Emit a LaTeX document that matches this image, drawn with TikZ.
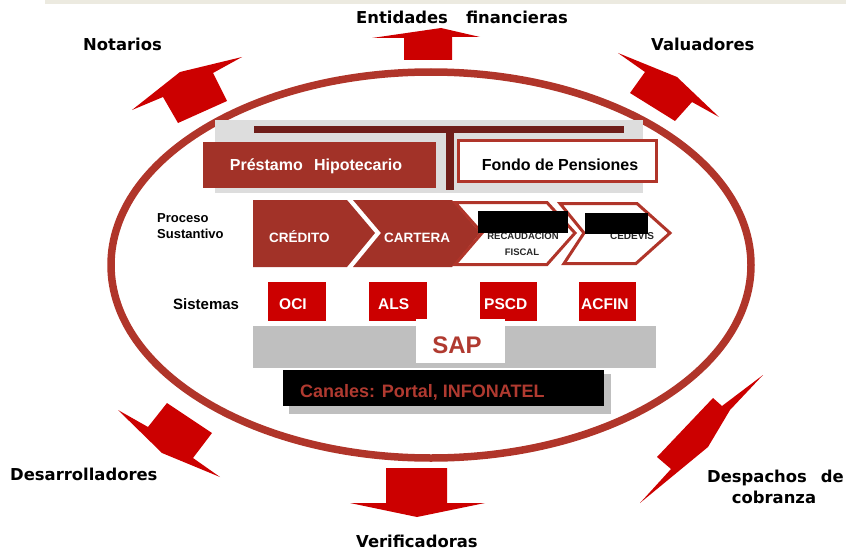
\documentclass[tikz,border=0pt]{standalone}
\usepackage{fontspec}
\setmainfont{Liberation Sans}
\newfontfamily\dvsans{DejaVu Sans}
\definecolor{arrowred}{HTML}{CC0000}
\definecolor{ringred}{HTML}{B0352A}
\definecolor{boxred}{HTML}{A23228}
\definecolor{tbar}{HTML}{6F1E1A}
\definecolor{lightbg}{HTML}{DDDDDD}
\definecolor{sapgray}{HTML}{BFBFBF}
\definecolor{topband}{HTML}{ECEAE0}
\definecolor{saptext}{HTML}{B03A30}
\begin{document}
\begin{tikzpicture}[x=1pt,y=-1pt,
  outer/.style={font=\dvsans\bfseries\fontsize{16.4}{19}\selectfont, text=black, inner sep=0pt},
  bigarrow/.style={fill=arrowred, draw=none},
  wtxt/.style={font=\bfseries\fontsize{13.5}{16}\selectfont, text=white, inner sep=0pt},
  systxt/.style={font=\bfseries\fontsize{15.5}{18}\selectfont, text=white, inner sep=0pt},
  sysbox/.style={fill=arrowred, draw=none},
  smalltxt/.style={font=\bfseries\fontsize{9.5}{11}\selectfont, text=black!85, inner sep=0pt},
  sidetxt/.style={font=\bfseries\fontsize{13}{15}\selectfont, text=black, inner sep=0pt},
  chevfill/.style={fill=boxred, draw=none},
  chevline/.style={fill=white, draw=ringred, line width=3pt, line join=miter}]
\useasboundingbox (0,0) rectangle (846,551);
% top band
\fill[topband] (45,0) rectangle (846,4);

% outer ring
\draw[ringred, line width=7.5pt] (431,265) ellipse [x radius=320, y radius=193];

% arrows
\fill[bigarrow] (404,60) -- (404,38) -- (372,38) -- (441,28) -- (480,37) -- (452,37) -- (452,60) -- cycle;
\fill[bigarrow] (132,110) -- (180,72) -- (242,57) -- (213,73) -- (227,101) -- (178,123) -- (163,97) -- cycle;
\fill[bigarrow] (618,53) -- (677,77) -- (719,117) -- (692,102) -- (675,121) -- (630,93) -- (645,72) -- cycle;
\fill[bigarrow] (118,410) -- (148,427) -- (167,403) -- (212,433) -- (193,458) -- (220,477) -- (162,453) -- cycle;
\fill[bigarrow] (763,375) -- (722,406) -- (713,398) -- (657,457) -- (671,469) -- (640,503) -- (708,447) -- (730,410) -- cycle;
\fill[bigarrow] (386,468) -- (447,468) -- (447,503) -- (485,503) -- (417,517) -- (350,503) -- (386,503) -- cycle;

% outer labels
\node[outer, anchor=base west] (ent) at (356,24) {Entidades\hspace{1.1em}financieras};
\node[outer, anchor=base west] (not) at (83,51) {Notarios};
\node[outer, anchor=base west] (val) at (651,51) {Valuadores};
\node[outer, anchor=base west] (des) at (10,480) {Desarrolladores};
\node[outer, anchor=base west] (desp) at (707,482) {Despachos};
\node[outer, anchor=base east] (de) at (844,482) {de};
\node[outer, anchor=base] (cob) at (774,503) {cobranza};
\node[outer, anchor=base west] (ver) at (356,547) {Verificadoras};

% top block
\fill[lightbg] (215,120) rectangle (643,193);
\fill[tbar] (254,126) rectangle (624,133);
\fill[tbar] (446,126) rectangle (454,190);
\fill[boxred] (203,142) rectangle (436,188);
\node[font=\bfseries\fontsize{16}{19}\selectfont, text=white, inner sep=0pt, anchor=base] (pre) at (316,170) {Préstamo\hspace{0.7em}Hipotecario};
\draw[ringred, fill=white, line width=3pt] (458.5,140.5) rectangle (656.5,181.5);
\node[font=\bfseries\fontsize{16}{19}\selectfont, text=black, inner sep=0pt, anchor=base] (fon) at (560,170) {Fondo de Pensiones};

% process row
\node[sidetxt, anchor=base west] (pro) at (157,222) {Proceso};
\node[sidetxt, anchor=base west] (sus) at (157,238) {Sustantivo};
\fill[chevfill] (253,200) -- (347,200) -- (375,233) -- (347,267) -- (253,267) -- cycle;
\fill[chevfill] (353,200) -- (452,200) -- (480,233) -- (452,267) -- (353,267) -- (381,233) -- cycle;
\draw[chevline] (455,202.5) -- (547,202.5) -- (575,233) -- (547,264.5) -- (455,264.5) -- (482,233) -- cycle;
\draw[chevline] (560,203.5) -- (637,203.5) -- (670,233) -- (636,263.5) -- (564,263.5) -- (584,233) -- cycle;
\node[wtxt, anchor=base west] (cre) at (269,242) {CRÉDITO};
\node[wtxt, anchor=base west] (car) at (384,242) {CARTERA};
\node[smalltxt, anchor=base] (rec) at (523,239) {RECAUDACIÓN};
\node[smalltxt, anchor=base] (fis) at (522,255) {FISCAL};
\node[smalltxt, font=\bfseries\fontsize{10}{12}\selectfont, anchor=base] (ced) at (632,239) {CEDEVIS};
\fill[black] (478,211) rectangle (568,233);
\fill[black] (585,213) rectangle (648,234);

% systems row
\node[font=\bfseries\fontsize{15}{18}\selectfont, text=black, inner sep=0pt, anchor=base west] (sis) at (173,309) {Sistemas};
\fill[sysbox] (268,282) rectangle (326,321);
\fill[sysbox] (369,282) rectangle (427,321);
\fill[sysbox] (480,282) rectangle (537,321);
\fill[sysbox] (579,282) rectangle (636,321);
\node[systxt, anchor=base west] (oci) at (279,309) {OCI};
\node[systxt, anchor=base west] (als) at (378,309) {ALS};
\node[systxt, anchor=base west] (psc) at (484,309) {PSCD};
\node[systxt, anchor=base west] (acf) at (581,309) {ACFIN};

% SAP
\fill[sapgray] (253,326) rectangle (656,368);
\fill[white] (416,319) rectangle (505,363);
\node[font=\bfseries\fontsize{24}{28}\selectfont, text=saptext, inner sep=0pt, anchor=base] (sap) at (457,353) {SAP};

% channels
\fill[sapgray] (289,374) rectangle (611,414);
\fill[black] (283,370) rectangle (604,406);
\node[font=\bfseries\fontsize{18}{21}\selectfont, text=saptext, inner sep=0pt, anchor=base west] (can) at (300,397) {Canales: Portal, INFONATEL};
\end{tikzpicture}
\end{document}
